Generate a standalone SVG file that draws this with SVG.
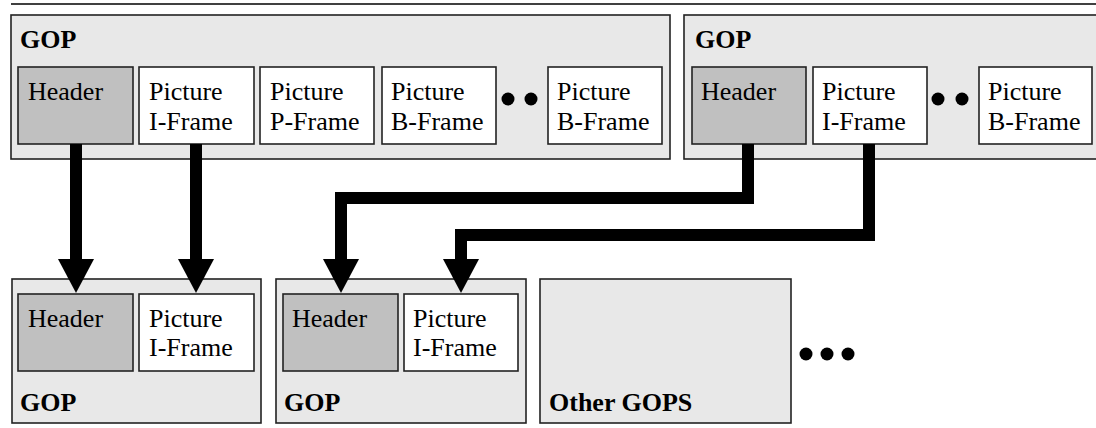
<svg xmlns="http://www.w3.org/2000/svg" width="1096" height="428" viewBox="0 0 1096 428">
  <style>
    .gop { fill: #e8e8e8; stroke: #222; stroke-width: 1.6; }
    .hdr { fill: #c0c0c0; stroke: #222; stroke-width: 1.6; }
    .pic { fill: #ffffff; stroke: #222; stroke-width: 1.6; }
    .lbl { font-family: 'Liberation Serif', 'Times New Roman', Times, 'DejaVu Serif', serif; font-size: 26px; fill: #000; }
    .ttl { font-family: 'Liberation Serif', 'Times New Roman', Times, 'DejaVu Serif', serif; font-size: 26px; font-weight: bold; fill: #000; }
    .dot { fill: #000; }
    .flow { fill: none; stroke: #000; stroke-width: 12; stroke-linejoin: miter; stroke-linecap: butt; marker-end: url(#head); }
  </style>
  <defs>
    <marker id="head" markerUnits="userSpaceOnUse" markerWidth="36" markerHeight="36" viewBox="0 0 34 36" refX="1" refY="18" orient="auto">
      <path d="M0,0 L34,18 L0,36 Z" fill="#000"/>
    </marker>
  </defs>

  <!-- rule across the top -->
  <line x1="11" y1="4" x2="1096" y2="4" stroke="#000" stroke-width="1.6"/>

  <!-- upper GOP, left -->
  <g id="gop-top-left">
    <rect class="gop" x="11" y="15" width="659" height="144"/>
    <text class="ttl" x="20" y="48">GOP</text>
    <rect class="hdr" x="18" y="67" width="115" height="77"/>
    <text class="lbl" x="28" y="100">Header</text>
    <rect class="pic" x="139" y="67" width="115" height="77"/>
    <text class="lbl" x="149" y="100">Picture</text>
    <text class="lbl" x="149" y="130">I-Frame</text>
    <rect class="pic" x="260" y="67" width="114" height="77"/>
    <text class="lbl" x="270" y="100">Picture</text>
    <text class="lbl" x="270" y="130">P-Frame</text>
    <rect class="pic" x="382" y="67" width="114" height="77"/>
    <text class="lbl" x="391" y="100">Picture</text>
    <text class="lbl" x="391" y="130">B-Frame</text>
    <circle class="dot" cx="508" cy="99" r="6.5"/>
    <circle class="dot" cx="531" cy="99" r="6.5"/>
    <rect class="pic" x="548" y="67" width="114" height="77"/>
    <text class="lbl" x="557" y="100">Picture</text>
    <text class="lbl" x="557" y="130">B-Frame</text>
  </g>

  <!-- upper GOP, right -->
  <g id="gop-top-right">
    <rect class="gop" x="684" y="15" width="420" height="144"/>
    <text class="ttl" x="695" y="48">GOP</text>
    <rect class="hdr" x="692" y="67" width="114" height="77"/>
    <text class="lbl" x="701" y="100">Header</text>
    <rect class="pic" x="813" y="67" width="114" height="77"/>
    <text class="lbl" x="822" y="100">Picture</text>
    <text class="lbl" x="822" y="130">I-Frame</text>
    <circle class="dot" cx="938" cy="99" r="6.5"/>
    <circle class="dot" cx="962" cy="99" r="6.5"/>
    <rect class="pic" x="979" y="67" width="113" height="77"/>
    <text class="lbl" x="988" y="100">Picture</text>
    <text class="lbl" x="988" y="130">B-Frame</text>
  </g>

  <!-- lower GOP, left -->
  <g id="gop-bottom-left">
    <rect class="gop" x="12" y="279" width="249" height="144"/>
    <rect class="hdr" x="18" y="294" width="115" height="77"/>
    <text class="lbl" x="28" y="327">Header</text>
    <rect class="pic" x="139" y="294" width="115" height="77"/>
    <text class="lbl" x="149" y="327">Picture</text>
    <text class="lbl" x="149" y="356">I-Frame</text>
    <text class="ttl" x="20" y="411">GOP</text>
  </g>

  <!-- lower GOP, middle -->
  <g id="gop-bottom-middle">
    <rect class="gop" x="276" y="279" width="250" height="144"/>
    <rect class="hdr" x="283" y="294" width="115" height="77"/>
    <text class="lbl" x="292" y="327">Header</text>
    <rect class="pic" x="404" y="294" width="114" height="77"/>
    <text class="lbl" x="413" y="327">Picture</text>
    <text class="lbl" x="413" y="356">I-Frame</text>
    <text class="ttl" x="284" y="411">GOP</text>
  </g>

  <!-- remaining groups -->
  <g id="other-gops">
    <rect class="gop" x="540" y="279" width="251" height="144"/>
    <text class="ttl" x="549" y="411">Other GOPS</text>
    <circle class="dot" cx="806" cy="354" r="6.5"/>
    <circle class="dot" cx="827" cy="354" r="6.5"/>
    <circle class="dot" cx="848" cy="354" r="6.5"/>
  </g>

  <!-- copy paths -->
  <g id="connectors">
    <path class="flow" d="M76,144 V260"/>
    <path class="flow" d="M196,144 V260"/>
    <path class="flow" d="M748,144 V198 H341 V260"/>
    <path class="flow" d="M869,144 V235 H461 V260"/>
  </g>
</svg>
